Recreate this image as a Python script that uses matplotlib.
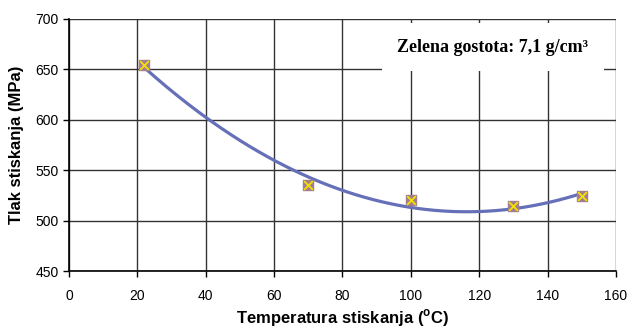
import numpy as np
import matplotlib.pyplot as plt

# measured points
temp = [22, 70, 100, 130, 150]
tlak = [654, 535, 520, 514, 524]

xticks = [0, 20, 40, 60, 80, 100, 120, 140, 160]
yticks = [450, 500, 550, 600, 650, 700]

plt.rcParams['font.family'] = ['Liberation Sans', 'DejaVu Sans']
plt.rcParams['mathtext.fontset'] = 'custom'
plt.rcParams['mathtext.rm'] = 'Liberation Sans:bold'

fig = plt.figure(figsize=(6.29, 3.32), dpi=100)
ax = fig.add_axes([0.1097, 0.1837, 0.8696, 0.7591])

# 2nd order polynomial trendline
coef = np.polyfit(temp, tlak, 2)
xx = np.linspace(min(temp), max(temp), 200)
ax.plot(xx, np.polyval(coef, xx), color='#6670b8', lw=2.3, zorder=3)

ax.scatter(temp, tlak, marker='s', s=55, color='#a27e8e', zorder=4)
ax.scatter(temp, tlak, marker='x', s=40, color='#f2e200', linewidths=1.3, zorder=5)

ax.set_xlim(0, 160)
ax.set_ylim(450, 700)
ax.set_xticks(xticks)
ax.set_yticks(yticks)
ax.grid(True, color='#333333', lw=1.0)
ax.set_axisbelow(True)
for s in ['top', 'right']:
    ax.spines[s].set_visible(False)
for s in ['left', 'bottom']:
    ax.spines[s].set_linewidth(1.2)
ax.tick_params(axis='both', labelsize=10, length=4, width=1, colors='black')
ax.tick_params(axis='x', pad=9)

ax.set_xlabel(r'Temperatura stiskanja ($^{\rm o}$C)', fontsize=12, fontweight='bold', labelpad=3)
ax.set_ylabel('Tlak stiskanja (MPa)', fontsize=12, fontweight='bold', labelpad=8)

ax.text(124, 672, 'Zelena gostota: 7,1 g/cm\u00b3', ha='center', va='center',
        fontsize=13, fontweight='bold', family='Liberation Serif',
        bbox=dict(boxstyle='square,pad=0.85', fc='white', ec='none'))

fig.savefig('out.png', dpi=100)
